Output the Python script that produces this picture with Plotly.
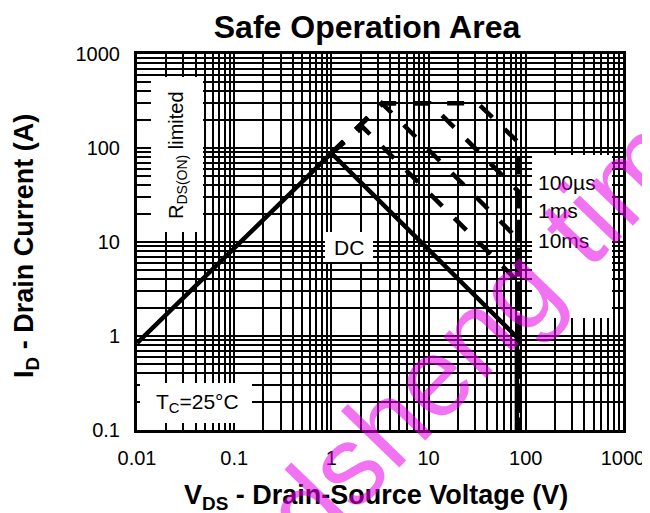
import plotly.graph_objects as go

# --- data (V in volts, I in amps) ---
dc_v = [0.01, 1.0, 81, 81]
dc_i = [0.84, 88, 0.97, 0.1]

outer_v = [1.0, 3.4, 32, 83, 83]
outer_i = [88, 300, 300, 116, 0.1]

us100_v = [1.0, 3.4, 10.3, 83, 83]
us100_i = [88, 300, 300, 35, 0.1]

ms1_v = [1.0, 3.3, 83, 83]
ms1_i = [88, 300, 10.8, 0.1]

ms10_v = [1.0, 2.1, 83, 83]
ms10_i = [88, 167, 3.8, 0.1]

x_ticks = [0.01, 0.1, 1, 10, 100, 1000]
x_labels = ["0.01", "0.1", "1", "10", "100", "1000"]
y_ticks = [0.1, 1, 10, 100, 1000]
y_labels = ["0.1", "1", "10", "100", "1000"]

pulse_labels = ["100µs", "1ms", "10ms"]

FONT = "Liberation Sans, Arial, sans-serif"
W, H = 650, 513          # page size
OFF = 8                  # default body margin of the html page
L, R, T, B = 137, 27, 54, 83   # plot area edges in page pixels


def px(x):
    # page pixel column -> paper fraction of the plot area
    return (x - L) / (W - L - R)


def py(y):
    return (H - B - y) / (H - T - B)


fig = go.Figure()
dash = "17px,17px"
for name, v, i in [("outer", outer_v, outer_i), ("100µs", us100_v, us100_i),
                   ("1ms", ms1_v, ms1_i), ("10ms", ms10_v, ms10_i)]:
    fig.add_trace(go.Scatter(x=v, y=i, mode="lines", name=name,
                             line=dict(color="black", width=4.5, dash=dash)))
fig.add_trace(go.Scatter(x=dc_v, y=dc_i, mode="lines", name="DC",
                         line=dict(color="black", width=4.5)))

grid = dict(type="log", showgrid=True, gridcolor="black", gridwidth=1.6,
            showline=True, linecolor="black", linewidth=3, mirror=True,
            ticks="", zeroline=False, automargin=False,
            minor=dict(showgrid=True, gridcolor="black", gridwidth=1.6, dtick="D1"),
            tickfont=dict(family=FONT, size=20, color="black"))

fig.update_xaxes(**grid, range=[-2, 3], tickvals=x_ticks, ticktext=x_labels,
                 ticklabelstandoff=8)
fig.update_yaxes(**grid, range=[-1, 3], tickvals=y_ticks, ticktext=y_labels,
                 ticklabelstandoff=10)

# white label boxes
boxes = [(151, 77, 203, 232), (325, 232, 373, 262), (140, 383, 252, 423), (532, 155, 612, 318)]
shapes = [dict(type="rect", xref="paper", yref="paper", x0=px(a), x1=px(c), y0=py(d), y1=py(b),
               fillcolor="white", line=dict(width=0), layer="above") for a, b, c, d in boxes]

ann = [
    dict(text="R<sub>DS(ON)</sub> limited", x=px(177), y=py(155), textangle=-90,
         font=dict(size=20)),
    dict(text="DC", x=px(349), y=py(247), font=dict(size=21)),
    dict(text="T<sub>C</sub>=25°C", x=px(197), y=py(403), font=dict(size=21)),
    # axis titles
    dict(text="<b>V<sub>DS</sub> - Drain-Source Voltage (V)</b>", x=px(376), y=py(497),
         font=dict(size=27)),
    dict(text="<b>I<sub>D</sub> - Drain Current (A)</b>", x=px(26), y=py(246),
         textangle=-90, font=dict(size=27)),
]
for k, lab in enumerate(pulse_labels):
    ann.append(dict(text=lab, x=px(536), y=py(182 + 29 * k), xanchor="left", font=dict(size=21)))
for a in ann:
    a.setdefault("xanchor", "center")
    a.update(xref="paper", yref="paper", yanchor="middle", showarrow=False)
    a["font"].update(family=FONT, color="black")

# watermark from the source image
ann.append(dict(text="dsheng tim", x=px(474), y=py(334), xref="paper", yref="paper",
                showarrow=False, textangle=-46, xanchor="center", yanchor="middle",
                font=dict(family=FONT, size=112, color="rgba(230,0,230,0.55)")))

fig.update_layout(
    width=W - OFF, height=H - OFF,
    margin=dict(l=L - OFF, r=R, t=T - OFF, b=B),
    paper_bgcolor="white", plot_bgcolor="white", showlegend=False,
    title=dict(text="<b>Safe Operation Area</b>", x=(367 - OFF) / (W - OFF), xanchor="center",
               y=1 - (27 - OFF) / (H - OFF), yanchor="middle",
               font=dict(family=FONT, size=32, color="black")),
    shapes=shapes, annotations=ann,
)

fig.write_html("out.html")
